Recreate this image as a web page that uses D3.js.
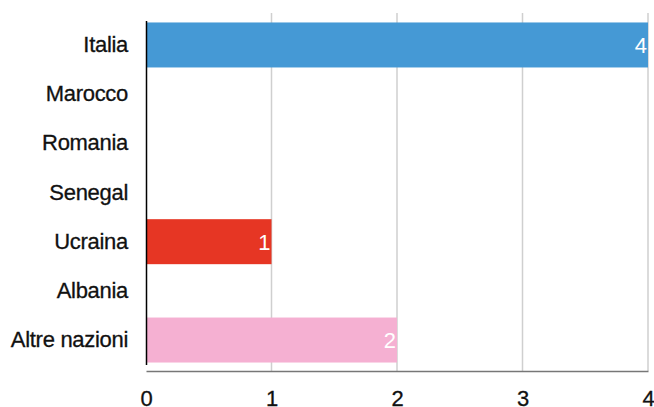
<!DOCTYPE html>
<html>
<head>
<meta charset="utf-8">
<script src="https://cdn.jsdelivr.net/npm/d3@7"></script>
<style>
  body { margin: 0; background: #fff; }
  svg { display: block; font-family: "Liberation Sans", Arial, sans-serif; }
</style>
</head>
<body>
<div id="chart"></div>
<script>
// data
var countries = ["Italia", "Marocco", "Romania", "Senegal", "Ucraina", "Albania", "Altre nazioni"];
var counts = [4, 0, 0, 0, 1, 0, 2];
var barColors = ["#4599d5", "#4599d5", "#4599d5", "#4599d5", "#e63624", "#4599d5", "#f5b0d2"];
var xTicks = [0, 1, 2, 3, 4];

var svgWidth = 654;
var svgHeight = 407;

var margin = { top: 13, right: 6, bottom: 36, left: 146 };
var width = svgWidth - margin.left - margin.right;
var height = svgHeight - margin.top - margin.bottom;

var svg = d3.select("#chart")
    .append("svg")
    .attr("width", svgWidth)
    .attr("height", svgHeight);

var chartGroup = svg.append("g")
    .attr("transform", `translate(${margin.left}, ${margin.top})`);

var data = countries.map((c, i) => ({ name: c, value: counts[i], color: barColors[i] }));

var xScale = d3.scaleLinear()
    .domain([0, 4])
    .range([0, width]);

var yScale = d3.scaleBand()
    .domain(countries)
    .range([7.5, 351.5])
    .paddingInner(0.085)
    .paddingOuter(0.04);

// gridlines
chartGroup.selectAll(".grid")
    .data(xTicks.slice(1))
    .enter()
    .append("line")
    .attr("x1", d => xScale(d))
    .attr("x2", d => xScale(d))
    .attr("y1", 0)
    .attr("y2", height)
    .attr("stroke", "#cfcfcf")
    .attr("stroke-width", 1.5);

// bars
chartGroup.selectAll(".bar")
    .data(data.filter(d => d.value > 0))
    .enter()
    .append("rect")
    .attr("x", 0)
    .attr("y", d => yScale(d.name))
    .attr("width", d => xScale(d.value))
    .attr("height", yScale.bandwidth())
    .attr("fill", d => d.color);

// value labels
chartGroup.selectAll(".val")
    .data(data.filter(d => d.value > 0))
    .enter()
    .append("text")
    .attr("x", d => xScale(d.value) - 1)
    .attr("y", d => yScale(d.name) + yScale.bandwidth() / 2)
    .attr("dy", "0.38em")
    .attr("text-anchor", "end")
    .attr("fill", "#fff")
    .style("font-size", "22px")
    .text(d => d.value);

// bottom axis
var bottomAxis = d3.axisBottom(xScale).tickValues(xTicks).tickFormat(d3.format("d")).tickSize(0).tickPadding(19);
var xAxisG = chartGroup.append("g")
    .attr("transform", `translate(0, ${height})`)
    .call(bottomAxis);
xAxisG.select(".domain").attr("stroke", "#777").attr("stroke-width", 1.5);
xAxisG.selectAll("text")
    .attr("fill", "#111")
    .attr("stroke", "#111")
    .attr("stroke-width", 0.3)
    .style("font-size", "22px")
    .style("font-family", "Liberation Sans, Arial, sans-serif");

// left axis
var leftAxis = d3.axisLeft(yScale).tickSize(0).tickPadding(18);
var yAxisG = chartGroup.append("g").call(leftAxis);
yAxisG.select(".domain").attr("stroke", "#000").attr("stroke-width", 1.5);
yAxisG.selectAll("text")
    .attr("fill", "#111")
    .attr("stroke", "#111")
    .attr("stroke-width", 0.3)
    .style("font-size", "22px")
    .style("letter-spacing", "-0.3px")
    .style("font-family", "Liberation Sans, Arial, sans-serif");
</script>
</body>
</html>
